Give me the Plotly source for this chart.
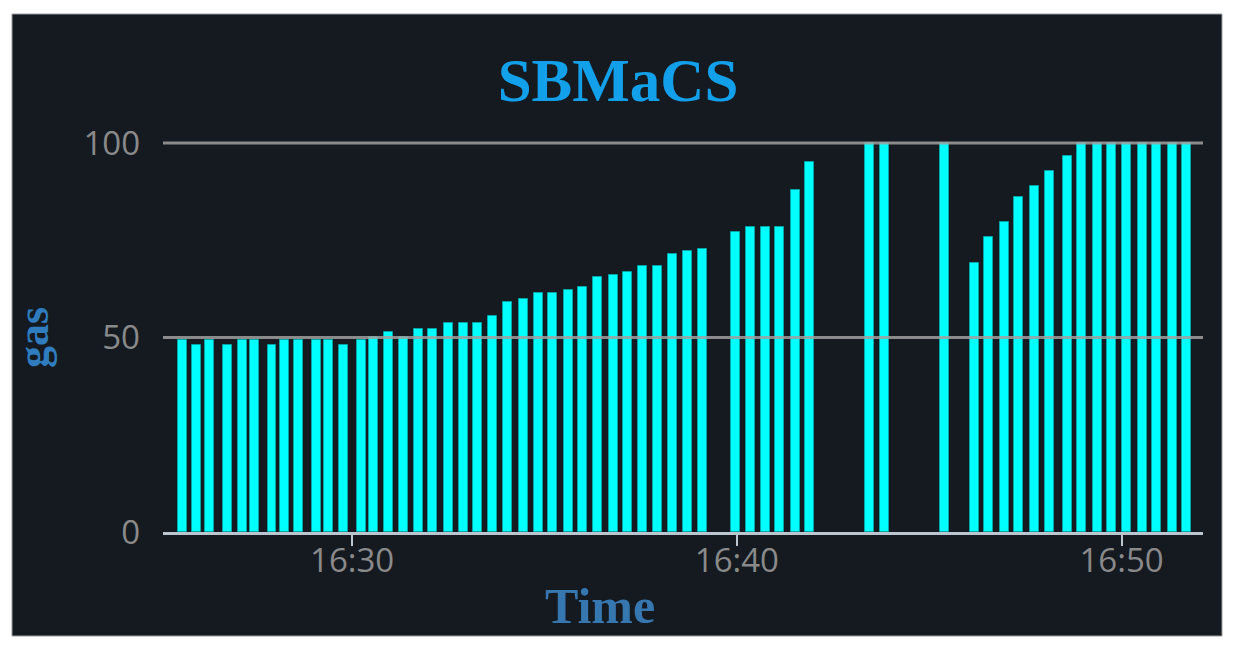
import plotly.graph_objects as go

# sample times (HH:MM:SS) and gas readings
times = [
    "16:25:35", "16:25:58", "16:26:18", "16:26:45", "16:27:09", "16:27:28",
    "16:27:55", "16:28:14", "16:28:37", "16:29:05", "16:29:23", "16:29:47",
    "16:30:15", "16:30:34", "16:30:57", "16:31:20", "16:31:43", "16:32:06",
    "16:32:31", "16:32:54", "16:33:16", "16:33:39", "16:34:03", "16:34:27",
    "16:34:50", "16:35:13", "16:35:37", "16:36:00", "16:36:23", "16:36:47",
    "16:37:10", "16:37:33", "16:37:56", "16:38:20", "16:38:43", "16:39:07",
    "16:39:58", "16:40:21", "16:40:44", "16:41:07", "16:41:31", "16:41:54",
    "16:43:27", "16:43:50", "16:45:24",
    "16:46:11", "16:46:33", "16:46:57", "16:47:20", "16:47:44", "16:48:07",
    "16:48:35", "16:48:58", "16:49:22", "16:49:45", "16:50:08", "16:50:32",
    "16:50:55", "16:51:19", "16:51:42",
]
gas = [
    49.4, 48, 49.4, 48, 49.4, 49.4,
    48, 49.4, 49.4, 49.4, 49.4, 48,
    49.4, 50, 51.4, 50, 52.2, 52.2,
    53.8, 53.8, 53.8, 55.4, 59.1, 59.8,
    61.5, 61.5, 62.3, 63, 65.5, 66.1,
    66.8, 68.5, 68.5, 71.4, 72.2, 72.8,
    77, 78.5, 78.5, 78.5, 88, 95,
    100, 100, 100,
    69.2, 75.9, 79.8, 86, 89, 92.9,
    96.7, 100, 100, 100, 100, 100,
    100, 100, 100,
]
y_ticks = [0, 50, 100]
day = "2021-01-01"
x_start = "16:25:05"
x_end = "16:52:07"

x = [f"{day} {t}" for t in times]

# the page body has an 8px margin, so the figure is shrunk by that much
OFF = 8
W, H = 1236 - OFF, 651 - OFF
# plot area in page pixels: left 163, right 1203, top 141 (a hair above 100), bottom 532
L, R, T, B = 163 - OFF, 1236 - 1203, 141 - OFF, 651 - 532
pw, ph = W - L - R, H - T - B


def px_x(p):
    return (p - 163) / pw


def px_y(p):
    return (532 - p) / ph


fig = go.Figure()
fig.add_trace(
    go.Bar(
        x=x,
        y=gas,
        width=14000,
        marker=dict(color="#00ffff", line=dict(color="rgba(0,170,170,0.85)", width=1)),
        showlegend=False,
    )
)

# dark panel behind the chart
fig.add_shape(
    type="rect",
    xref="paper", yref="paper",
    x0=px_x(12), x1=px_x(1222), y0=px_y(636), y1=px_y(14),
    fillcolor="#151a20",
    line=dict(color="#9a9a9a", width=1),
    layer="below",
)
# grid lines are drawn over the bars in the original
for v in y_ticks[1:]:
    fig.add_shape(
        type="line", xref="paper", yref="y",
        x0=0, x1=1, y0=v, y1=v,
        line=dict(color="rgba(160,160,160,0.85)", width=3),
        layer="above",
    )

fig.add_annotation(
    text="gas", xref="paper", yref="paper",
    x=px_x(33), y=px_y(338), xanchor="center", yanchor="middle",
    textangle=-90, showarrow=False,
    font=dict(family="Liberation Serif", size=44, color="#2f7cbf", weight="bold"),
)
fig.add_annotation(
    text="Time", xref="paper", yref="paper",
    x=px_x(600), y=px_y(606), xanchor="center", yanchor="middle",
    showarrow=False,
    font=dict(family="Liberation Serif", size=50, color="#3677b0", weight="bold"),
)

fig.update_layout(
    width=W,
    height=H,
    margin=dict(l=L, r=R, t=T, b=B),
    paper_bgcolor="white",
    plot_bgcolor="#151a20",
    bargap=0,
    title=dict(
        text="SBMaCS",
        x=0.5 + (618 - OFF - W / 2) / W, xref="container", xanchor="center",
        y=1 - (80 - OFF) / H, yref="container", yanchor="middle",
        font=dict(family="Liberation Serif", size=61, color="#12a0ea", weight="bold"),
    ),
    xaxis=dict(
        type="date",
        range=[f"{day} {x_start}", f"{day} {x_end}"],
        tick0=f"{day} 16:30:00",
        dtick=600000,
        tickformat="%H:%M",
        showgrid=False,
        showline=True,
        linecolor="#bcc6d0",
        linewidth=3,
        ticks="outside",
        ticklen=11,
        tickwidth=2,
        tickcolor="#bcc6d0",
        ticklabelstandoff=-14,
        tickfont=dict(family="Open Sans", size=33, color="#8a8a8a"),
        zeroline=False,
    ),
    yaxis=dict(
        range=[0, 100.5],
        tickvals=y_ticks,
        showgrid=False,
        zeroline=False,
        showline=False,
        ticks="",
        ticklabelstandoff=22,
        tickfont=dict(family="Open Sans", size=33, color="#8a8a8a"),
    ),
)

fig.write_html("out.html")
